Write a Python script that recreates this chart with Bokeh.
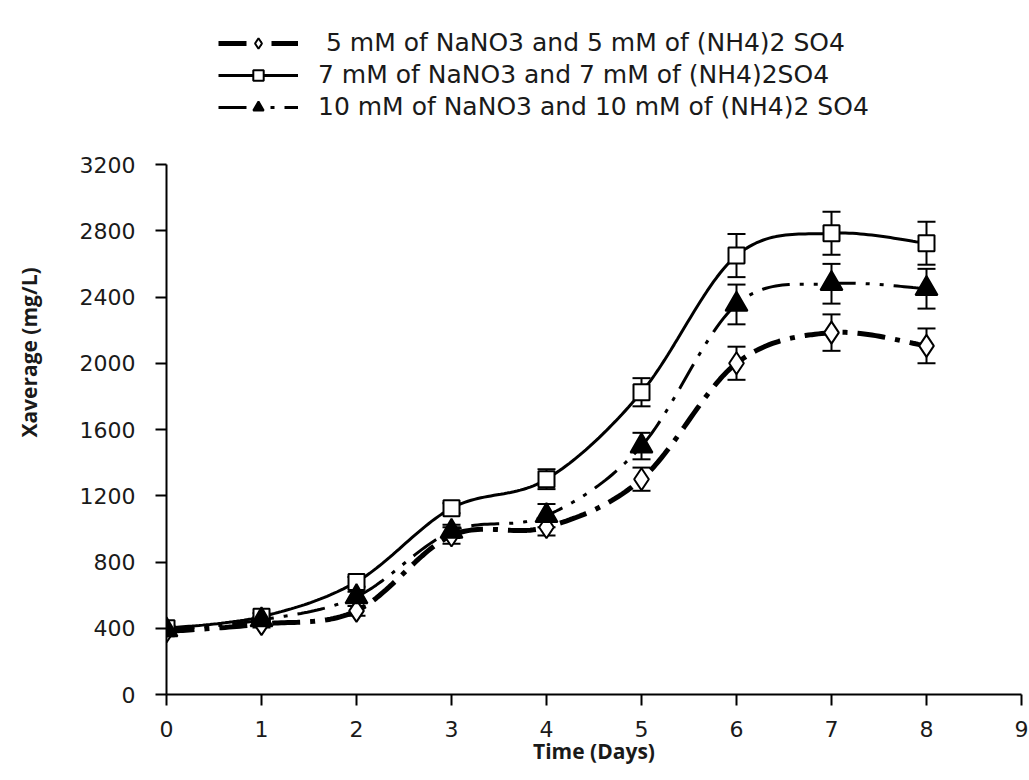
import numpy as np
from bokeh.plotting import figure
from bokeh.models import ColumnDataSource, Whisker, TeeHead, Legend, LegendItem, Range1d
from bokeh.embed import file_html
from bokeh.resources import INLINE

days = [0, 1, 2, 3, 4, 5, 6, 7, 8]
labels = [" 5 mM of NaNO3 and 5 mM of (NH4)2 SO4",
          "7 mM of NaNO3 and 7 mM of (NH4)2SO4",
          "10 mM of NaNO3 and 10 mM of (NH4)2 SO4"]
y5 = [380, 425, 505, 960, 1010, 1300, 2000, 2185, 2105]
e5 = [15, 20, 30, 50, 50, 70, 100, 110, 105]
y7 = [400, 470, 680, 1125, 1300, 1825, 2650, 2785, 2725]
e7 = [15, 20, 30, 30, 60, 85, 130, 130, 130]
y10 = [390, 450, 590, 985, 1080, 1500, 2355, 2480, 2450]
e10 = [15, 20, 30, 40, 70, 80, 120, 120, 120]
x_ticks = list(range(0, 10))
y_ticks = list(range(0, 3201, 400))


def smooth(xs, ys, n=30):
    pts = np.column_stack([xs, ys]).astype(float)
    P = np.vstack([pts[0], pts, pts[-1]])
    out = []
    t = np.linspace(0, 1, n)[:, None]
    for i in range(len(pts) - 1):
        p0, p1, p2, p3 = P[i], P[i + 1], P[i + 2], P[i + 3]
        c1 = p1 + (p2 - p0) / 6.0
        c2 = p2 - (p3 - p1) / 6.0
        seg = ((1 - t) ** 3) * p1 + 3 * ((1 - t) ** 2) * t * c1 + 3 * (1 - t) * (t ** 2) * c2 + (t ** 3) * p2
        out.append(seg if i == 0 else seg[1:])
    s = np.vstack(out)
    return s[:, 0], s[:, 1]


W, H = 1029, 780
top_b, bot_b = 10, 86
frame_h = H - top_b - bot_b
y_top = 3200 * frame_h / (694 - 164)

p = figure(width=W, height=H, output_backend="svg", toolbar_location=None,
           x_range=Range1d(0, 9), y_range=Range1d(0, y_top),
           min_border_left=166, min_border_right=8, min_border_top=top_b, min_border_bottom=bot_b)
p.outline_line_color = None
p.xgrid.visible = False
p.ygrid.visible = False
p.background_fill_color = "white"

series = [
    (y5, e5, dict(line_width=5, line_dash="28 10 5 10"), "diamond", 22, "white"),
    (y7, e7, dict(line_width=3), "square", 16, "white"),
    (y10, e10, dict(line_width=3, line_dash="28 10 4 10 4 10"), "triangle", 22, "black"),
]

items = []
for (ys, es, lstyle, marker, msize, mfill), lab in zip(series, labels):
    sx, sy = smooth(days, ys)
    rl = p.line(sx, sy, line_color="black", **lstyle)
    src = ColumnDataSource(dict(x=days, y=ys,
                                lo=[a - b for a, b in zip(ys, es)],
                                hi=[a + b for a, b in zip(ys, es)]))
    w = Whisker(source=src, base="x", lower="lo", upper="hi", line_color="black", line_width=2,
                upper_head=TeeHead(size=18, line_color="black", line_width=2),
                lower_head=TeeHead(size=18, line_color="black", line_width=2))
    p.add_layout(w)
    rs = p.scatter("x", "y", source=src, marker=marker, size=msize, fill_color=mfill,
                   line_color="black", line_width=2)
    items.append(LegendItem(label=lab, renderers=[rl, rs]))

legend = Legend(items=items, location=(52, frame_h - 15 - 96), border_line_color=None,
                background_fill_alpha=0,
                label_text_font="DejaVu Sans", label_text_font_size="25px",
                label_text_color="#1a1a1a",
                glyph_width=80, glyph_height=26, label_height=26, spacing=3, padding=0, margin=0,
                label_standoff=20)
p.add_layout(legend, "center")

for ax in (p.xaxis[0], p.yaxis[0]):
    ax.axis_line_width = 2
    ax.axis_line_color = "black"
    ax.major_tick_line_width = 2
    ax.major_tick_line_color = "black"
    ax.minor_tick_line_color = None
    ax.major_tick_in = 0
    ax.major_tick_out = 11
    ax.major_label_text_font = "DejaVu Sans"
    ax.major_label_text_font_size = "22px"
    ax.major_label_text_color = "#1a1a1a"
    ax.axis_label_text_font = "Open Sans"
    ax.axis_label_text_font_style = "bold"
    ax.axis_label_text_font_size = "21px"
    ax.axis_label_text_color = "#1a1a1a"

p.yaxis.bounds = (0, 3200)
p.xaxis.ticker = x_ticks
p.yaxis.ticker = y_ticks
p.xaxis.axis_label = "Time (Days)"
p.yaxis.axis_label = "Xaverage (mg/L)"
p.xaxis.major_label_standoff = 15
p.yaxis.major_label_standoff = 20
p.xaxis.axis_label_standoff = -3
p.yaxis.axis_label_standoff = 34

open("out.html", "w").write(file_html(p, INLINE))
